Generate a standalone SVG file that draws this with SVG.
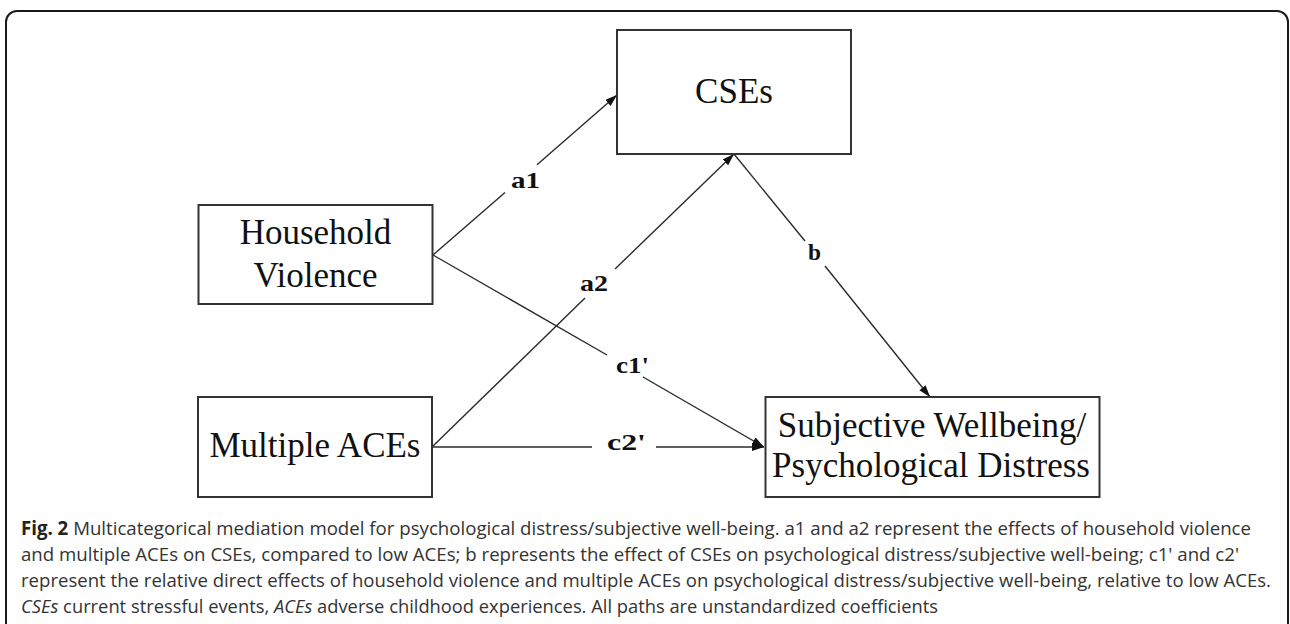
<svg xmlns="http://www.w3.org/2000/svg" width="1290" height="624" viewBox="0 0 1290 624">
<defs>
<marker id="arr" markerUnits="userSpaceOnUse" markerWidth="13" markerHeight="9" refX="12" refY="4" orient="auto">
<path d="M0,0 L12,4 L0,8 z" fill="#111"/>
</marker>
<style>
.box{fill:#fff;stroke:#333;stroke-width:2}
.nt{font-family:"Liberation Serif","Times New Roman",serif;font-size:35px;fill:#111;text-anchor:middle}
.ln{fill:none;stroke:#2a2a2a;stroke-width:1.4}
.lb{font-family:"Liberation Serif","Times New Roman",serif;font-size:24px;font-weight:bold;fill:#111}
.cap{font-family:"Open Sans","Noto Sans",sans-serif;font-size:19px;fill:#333}
</style>
</defs>
<rect x="6" y="11" width="1282" height="700" rx="11" fill="#fff" stroke="#1a1a1a" stroke-width="2"/>

<g id="connectors">
<path class="ln" d="M433,255 L505,192.5"/>
<path class="ln" d="M537,164.7 L617,95" marker-end="url(#arr)"/>
<path class="ln" d="M432,447 L585,298"/>
<path class="ln" d="M615,269 L734,154" marker-end="url(#arr)"/>
<path class="ln" d="M734,154 L805,241"/>
<path class="ln" d="M825,266 L930,397" marker-end="url(#arr)"/>
<path class="ln" d="M433,255 L607,355"/>
<path class="ln" d="M643,377 L764,447" marker-end="url(#arr)"/>
<path class="ln" d="M432,447 L592,447"/>
<path class="ln" d="M656,447 L764,447" marker-end="url(#arr)"/>
<text class="lb" x="511" y="188" textLength="29" lengthAdjust="spacingAndGlyphs">a1</text>
<text class="lb" x="580" y="291" textLength="28" lengthAdjust="spacingAndGlyphs">a2</text>
<text class="lb" x="808" y="260" textLength="13" lengthAdjust="spacingAndGlyphs">b</text>
<text class="lb" x="616" y="373" textLength="33" lengthAdjust="spacingAndGlyphs">c1'</text>
<text class="lb" x="607" y="450" textLength="39" lengthAdjust="spacingAndGlyphs">c2'</text>
</g>

<g id="node-cses">
<rect class="box" x="617" y="30" width="234" height="124"/>
<text class="nt" x="734" y="103">CSEs</text>
</g>
<g id="node-household">
<rect class="box" x="198.5" y="205" width="234" height="99"/>
<text class="nt" x="315.5" y="244">Household</text>
<text class="nt" x="315.5" y="287">Violence</text>
</g>
<g id="node-multiple">
<rect class="box" x="198" y="397" width="234" height="100"/>
<text class="nt" x="315" y="457">Multiple ACEs</text>
</g>
<g id="node-outcome">
<rect class="box" x="765.5" y="397" width="334" height="100"/>
<text class="nt" x="932" y="437">Subjective Wellbeing/</text>
<text class="nt" x="931" y="477">Psychological Distress</text>
</g>

<g id="caption">
<text class="cap" x="21" y="535" textLength="1230" lengthAdjust="spacingAndGlyphs"><tspan font-weight="bold" fill="#222">Fig. 2</tspan> Multicategorical mediation model for psychological distress/subjective well-being. a1 and a2 represent the effects of household violence</text>
<text class="cap" x="21" y="561" textLength="1218" lengthAdjust="spacingAndGlyphs">and multiple ACEs on CSEs, compared to low ACEs; b represents the effect of CSEs on psychological distress/subjective well-being; c1' and c2'</text>
<text class="cap" x="21" y="587" textLength="1250" lengthAdjust="spacingAndGlyphs">represent the relative direct effects of household violence and multiple ACEs on psychological distress/subjective well-being, relative to low ACEs.</text>
<text class="cap" x="21" y="613" textLength="917" lengthAdjust="spacingAndGlyphs"><tspan font-style="italic">CSEs</tspan> current stressful events, <tspan font-style="italic">ACEs</tspan> adverse childhood experiences. All paths are unstandardized coefficients</text>
</g>
</svg>
